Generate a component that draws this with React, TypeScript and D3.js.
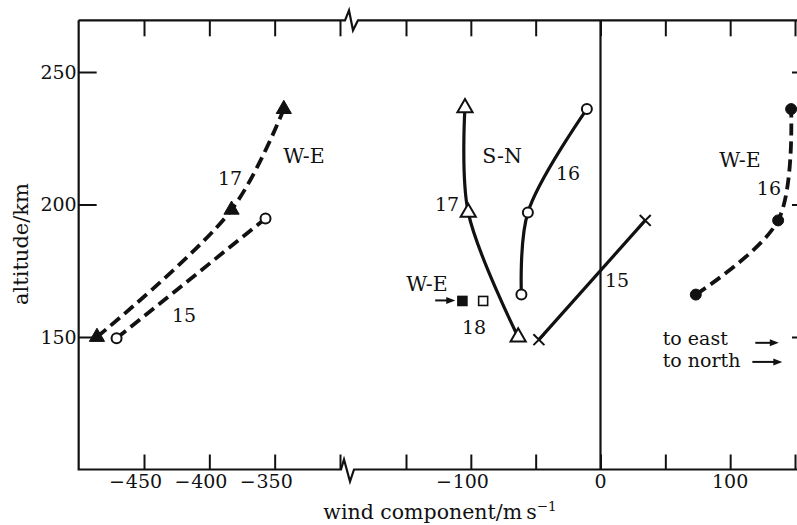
import React, { useEffect, useRef } from 'react';
import * as d3 from 'd3';

// values: wind component (m/s) vs altitude (km)
const weLeft17 = [
  { v: -486, alt: 150 },
  { v: -383, alt: 198 },
  { v: -343, alt: 236 },
];
const weLeft15 = [
  { v: -471, alt: 149.5 },
  { v: -357, alt: 194.7 },
];
const sn17 = [
  { v: -63.5, alt: 150 },
  { v: -102, alt: 197 },
  { v: -104.5, alt: 236.5 },
];
const sn16 = [
  { v: -61, alt: 166 },
  { v: -56, alt: 197 },
  { v: -10.5, alt: 236 },
];
const sn15 = [
  { v: -47.5, alt: 149 },
  { v: 34.5, alt: 194 },
];
const weRight16 = [
  { v: 73.5, alt: 166 },
  { v: 137, alt: 194 },
  { v: 147, alt: 236 },
];
const we18 = [
  { v: -106.5, alt: 163.6, filled: true },
  { v: -90.5, alt: 163.6, filled: false },
];

const leftTicks = [-450, -400, -350, -300];
const rightTicks = [-150, -100, -50, 0, 50, 100, 150];
const xTickLabels = [-450, -400, -350, -100, 0, 100];
const altTicks = [150, 200, 250];

// curve labels, anchored in data space
const labels = [
  { text: 'W-E', v: -327.6, alt: 215.8 },
  { text: '17', v: -384.2, alt: 207.2 },
  { text: '15', v: -419.4, alt: 155.5 },
  { text: 'S-N', v: -75.9, alt: 215.5 },
  { text: '16', v: -25, alt: 209.4 },
  { text: '17', v: -118.3, alt: 197.7 },
  { text: 'W-E', v: 107.5, alt: 214 },
  { text: '16', v: 129.9, alt: 203.4 },
  { text: '15', v: 12.8, alt: 168.7 },
  { text: 'W-E', v: -133.8, alt: 167.5 },
  { text: '18', v: -97.5, alt: 151.3 },
];
const legendTexts = [
  { text: 'to east', v: 48, alt: 146.8 },
  { text: 'to north', v: 48, alt: 138.8 },
];
const arrows = [
  { v0: -127.5, v1: -112, alt: 163.8 },
  { v0: 119.4, v1: 137.5, alt: 147.8 },
  { v0: 117.1, v1: 140.2, alt: 140.6 },
];

const FONT = "'DejaVu Serif', serif";

export default function App() {
  const ref = useRef<SVGSVGElement>(null);

  useEffect(() => {
    const svg = d3.select(ref.current);
    svg.selectAll('*').remove();

    // broken x axis: two linear pieces with the same slope
    const xLeft = d3.scaleLinear().domain([-450, -300]).range([144, 340]);
    const xRight = d3.scaleLinear().domain([-150, 150]).range([406, 795]);
    const x = (v: number) => (v <= -300 ? xLeft(v) : xRight(v));
    const y = d3.scaleLinear().domain([150, 250]).range([337, 72]);

    const x0 = xLeft(-500);
    const xb = xLeft(-300);
    const xEnd = 812;
    const yTop = y(269.5);
    const yBot = y(100);

    const ink = '#111';

    // frame with the break zigzags
    const frame = svg.append('g').attr('fill', 'none').attr('stroke', ink).attr('stroke-width', 2.2);
    frame.append('path').attr('d', d3.line()([
      [x0, yTop], [xb + 5, yTop], [xb + 9, yTop - 10], [xb + 13, yTop + 10], [xb + 18, yTop], [xEnd, yTop],
    ]));
    frame.append('path').attr('d', d3.line()([
      [x0, yTop], [x0, yBot], [xb + 1, yBot], [xb + 4, yBot - 10], [xb + 10, yBot + 12], [xb + 14, yBot], [xEnd, yBot],
    ]));
    frame.append('line')
      .attr('x1', xRight(0)).attr('x2', xRight(0))
      .attr('y1', yTop).attr('y2', yBot);
    frame.append('line')
      .attr('x1', 808).attr('x2', 808)
      .attr('y1', yTop).attr('y2', yBot);

    // tick marks pointing into the plot
    const styleAxis = (g: any) => {
      g.select('.domain').remove();
      g.selectAll('line').attr('stroke', ink).attr('stroke-width', 2);
      g.attr('font-family', FONT).attr('font-size', 19);
      g.selectAll('text').attr('fill', ink);
    };
    const noLabel = () => '';

    [xLeft, xRight].forEach((sc, i) => {
      const tv = i === 0 ? leftTicks : rightTicks;
      svg.append('g')
        .attr('transform', `translate(0,${yTop})`)
        .call(d3.axisTop(sc).tickValues(tv).tickSizeInner(-16).tickSizeOuter(0).tickFormat(noLabel))
        .call(styleAxis);
      svg.append('g')
        .attr('transform', `translate(0,${yBot})`)
        .call(d3.axisBottom(sc).tickValues(tv).tickSizeInner(-15).tickSizeOuter(0).tickFormat(noLabel))
        .call(styleAxis);
    });

    svg.append('g')
      .attr('transform', `translate(${x0},0)`)
      .call(d3.axisLeft(y).tickValues(altTicks).tickSizeInner(-18).tickSizeOuter(0).tickPadding(2).tickFormat(d3.format('d')))
      .call(styleAxis);
    svg.append('g')
      .attr('transform', 'translate(808,0)')
      .call(d3.axisRight(y).tickValues(altTicks).tickSizeInner(-16).tickSizeOuter(0).tickFormat(noLabel))
      .call(styleAxis);

    // bottom tick labels: digits centred on the tick, minus hanging left
    const xl = svg.append('g').attr('font-family', FONT).attr('font-size', 19).attr('fill', ink);
    xl.selectAll('text.num')
      .data(xTickLabels)
      .enter()
      .append('text')
      .attr('class', 'num')
      .attr('x', (d) => x(d))
      .attr('y', 488)
      .attr('text-anchor', 'middle')
      .text((d) => String(Math.abs(d)));
    xl.selectAll('text.minus')
      .data(xTickLabels.filter((d) => d < 0))
      .enter()
      .append('text')
      .attr('class', 'minus')
      .attr('x', (d) => x(d) - (String(Math.abs(d)).length * 12) / 2 - 1)
      .attr('y', 488)
      .attr('text-anchor', 'end')
      .text('\u2212');

    // axis titles
    const xt = svg.append('text')
      .attr('x', 440).attr('y', 519)
      .attr('text-anchor', 'middle')
      .attr('font-family', FONT).attr('font-size', 20.5).attr('fill', ink);
    xt.append('tspan').text('wind component/m\u2009s');
    xt.append('tspan').attr('dy', -8).attr('font-size', 13.5).text('\u22121');

    svg.append('text')
      .attr('transform', 'translate(28,244) rotate(-90)')
      .attr('text-anchor', 'middle')
      .attr('font-family', FONT).attr('font-size', 21).attr('fill', ink)
      .text('altitude/km');

    // curves
    const line = d3.line<{ v: number; alt: number }>()
      .x((d) => x(d.v))
      .y((d) => y(d.alt))
      .curve(d3.curveCatmullRom.alpha(0.5));

    const series = [
      { data: weLeft17, dashed: true },
      { data: weLeft15, dashed: true },
      { data: sn17, dashed: false },
      { data: sn16, dashed: false },
      { data: sn15, dashed: false },
      { data: weRight16, dashed: true },
    ];
    svg.append('g')
      .selectAll('path')
      .data(series)
      .enter()
      .append('path')
      .attr('d', (d) => line(d.data))
      .style('fill', 'none')
      .style('stroke', ink)
      .style('stroke-width', (d) => (d.dashed ? 3.8 : 3.2))
      .style('stroke-dasharray', (d) => (d.dashed ? '12,6' : null));

    // markers
    const mk = svg.append('g').attr('stroke', ink);
    mk.selectAll('path.ftri')
      .data(weLeft17)
      .enter()
      .append('path')
      .attr('d', d3.symbol(d3.symbolTriangle, 100)())
      .attr('transform', (d) => `translate(${x(d.v)},${y(d.alt)})`)
      .attr('fill', ink)
      .attr('stroke-width', 1);
    mk.selectAll('path.otri')
      .data(sn17)
      .enter()
      .append('path')
      .attr('d', d3.symbol(d3.symbolTriangle, 100)())
      .attr('transform', (d) => `translate(${x(d.v)},${y(d.alt)})`)
      .attr('fill', '#fff')
      .attr('stroke-width', 2);
    mk.selectAll('circle.oc')
      .data([...weLeft15, ...sn16])
      .enter()
      .append('circle')
      .attr('cx', (d) => x(d.v))
      .attr('cy', (d) => y(d.alt))
      .attr('r', 5)
      .attr('fill', '#fff')
      .attr('stroke-width', 2);
    mk.selectAll('circle.fc')
      .data(weRight16)
      .enter()
      .append('circle')
      .attr('cx', (d) => x(d.v))
      .attr('cy', (d) => y(d.alt))
      .attr('r', 5.5)
      .attr('fill', ink);
    mk.selectAll('path.cross')
      .data(sn15)
      .enter()
      .append('path')
      .attr('d', d3.symbol(d3.symbolTimes, 80)())
      .attr('transform', (d) => `translate(${x(d.v)},${y(d.alt)})`)
      .attr('fill', 'none')
      .attr('stroke-width', 2);
    mk.selectAll('rect.sq')
      .data(we18)
      .enter()
      .append('rect')
      .attr('x', (d) => x(d.v) - 4.5)
      .attr('y', (d) => y(d.alt) - 4.5)
      .attr('width', 9)
      .attr('height', 9)
      .attr('fill', (d) => (d.filled ? ink : '#fff'))
      .attr('stroke-width', 1.6);

    // arrows
    const ar = svg.append('g');
    arrows.forEach((a) => {
      const xa = x(a.v0), xz = x(a.v1), ya = y(a.alt);
      ar.append('line')
        .attr('x1', xa).attr('x2', xz - 6)
        .attr('y1', ya).attr('y2', ya)
        .attr('stroke', ink).attr('stroke-width', 2);
      ar.append('path')
        .attr('d', d3.line()([[xz, ya], [xz - 9, ya - 3.5], [xz - 9, ya + 3.5]]) + 'Z')
        .attr('fill', ink);
    });

    // text labels
    const tl = svg.append('g').attr('font-family', FONT).attr('fill', ink);
    tl.selectAll('text.lab')
      .data(labels)
      .enter()
      .append('text')
      .attr('x', (d) => x(d.v))
      .attr('y', (d) => y(d.alt))
      .attr('text-anchor', 'middle')
      .attr('font-size', (d) => (/^\d+$/.test(d.text) ? 19 : 20.5))
      .text((d) => d.text);
    tl.selectAll('text.leg')
      .data(legendTexts)
      .enter()
      .append('text')
      .attr('x', (d) => x(d.v))
      .attr('y', (d) => y(d.alt))
      .attr('font-size', 19)
      .text((d) => d.text);
  }, []);

  return (
    <svg
      ref={ref}
      width={797}
      height={525}
      style={{ position: 'absolute', left: 0, top: 0, background: '#fff' }}
    />
  );
}
